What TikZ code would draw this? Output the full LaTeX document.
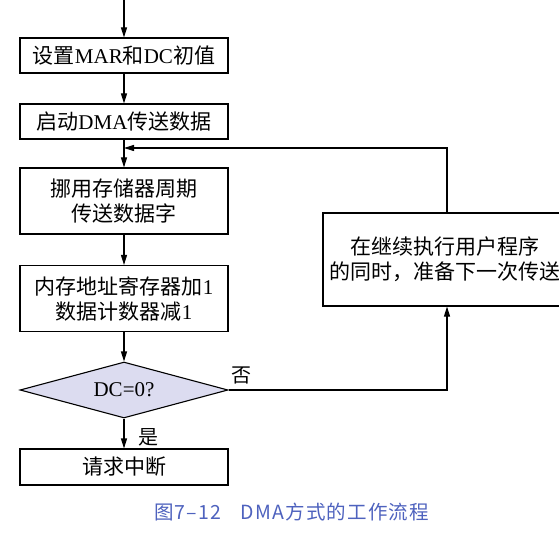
\documentclass[tikz,border=0pt]{standalone}
\usepackage{fontspec}
\setmainfont{Liberation Serif}
\newfontfamily\cjk{Noto Sans CJK SC}
\newfontfamily\capfont[LetterSpace=6]{Noto Sans CJK SC}
\usetikzlibrary{arrows.meta,shapes.geometric}
\newcommand\zh[1]{{\cjk #1}}
\definecolor{capblue}{RGB}{78,98,190}
\definecolor{dfill}{RGB}{220,220,240}
\tikzset{
  flowbox/.style={draw, line width=1.1pt, minimum width=208pt, inner sep=0pt, align=center,
    font=\fontsize{21}{25}\selectfont},
  arr/.style={line width=1.1pt, -{Triangle[length=10pt,width=6pt]}},
  conn/.style={line width=1.1pt},
  lbl/.style={font=\cjk\fontsize{20}{24}\selectfont, inner sep=0pt}
}
\begin{document}
\begin{tikzpicture}[x=1pt,y=-1pt]
\useasboundingbox (0,0) rectangle (559,537);
\clip (0,0) rectangle (559,537);
\coordinate (top) at (124,0);
\node[flowbox, minimum height=35pt] (b1) at (124,55.5) {\zh{设置}MAR\zh{和}DC\zh{初值}};
\node[flowbox, minimum height=35pt] (b2) at (124,121.5) {\zh{启动}DMA\zh{传送数据}};
\node[flowbox, minimum height=66pt] (b3) at (124,201) {\zh{挪用存储器周期}\\\zh{传送数据字}};
\node[flowbox, minimum height=66pt] (b4) at (124,298.5) {\zh{内存地址寄存器加}1\\\zh{数据计数器减}1};
\node[draw, line width=1.1pt, fill=dfill, diamond, aspect=3.7, minimum width=208pt, minimum height=56pt, inner sep=0pt,
  font=\fontsize{21}{24}\selectfont] (d) at (124,390) {DC=0?};
\node[flowbox, minimum height=36pt] (b5) at (124,467) {\zh{请求中断}};
\node[flowbox, minimum width=244pt, minimum height=93pt, font=\cjk\fontsize{21}{25}\selectfont] (r) at (445,259.5)
  {在继续执行用户程序\\的同时，准备下一次传送};
\coordinate (lx) at (447,148);
\coordinate (j) at (124,148);
\node[lbl] (no) at (241,375) {否};
\node[lbl] (yes) at (148,437) {是};
\node[font=\capfont\fontsize{19.5}{22}\selectfont, text=capblue, inner sep=0pt] (cap) at (291.5,512) {图7–12\quad DMA方式的工作流程};
\draw[arr] (top) -- (b1.north);
\draw[arr] (b1.south) -- (b2.north);
\draw[arr] (b2.south) -- (b3.north);
\draw[arr] (b3.south) -- (b4.north);
\draw[arr] (b4.south) -- (d.north);
\draw[arr] (d.south) -- (b5.north);
\draw[arr] (r.north -| lx) |- (j);
\draw[arr] (d.east) -| (r.south -| lx);
\end{tikzpicture}
\end{document}
